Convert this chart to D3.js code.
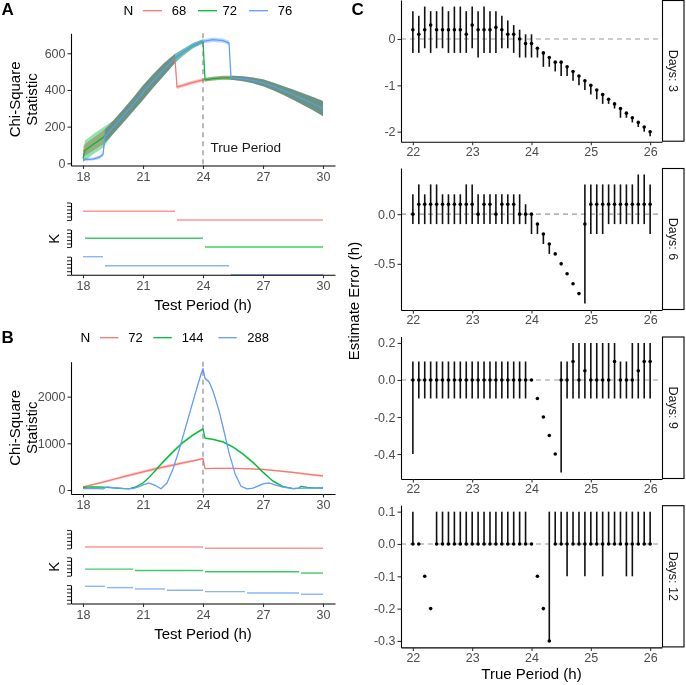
<!DOCTYPE html>
<html><head><meta charset="utf-8">
<script src="https://cdn.jsdelivr.net/npm/d3@7"></script>
<style>body{margin:0;background:#fff}svg{display:block}</style>
</head><body><svg id="c" width="686" height="685"></svg>
<script>
// ---------------- DATA ----------------
const testTicks = [18, 21, 24, 27, 30];
const truePeriodTicks = [22, 23, 24, 25, 26];
const seriesColors = ["#F8766D", "#00BA38", "#619CFF"];

// Panel A : [test period, chi-square, ribbon half-width]
const legendA = ["68", "72", "76"];
const chiA68 = [[18.0,65,32],[18.5,103,35],[19.0,140,37],[19.5,195,37],[20.0,257,37],[20.5,320,38],[21.0,385,40],[21.5,448,38],[22.0,507,35],[22.3,540,30],[22.6,572,25],[22.7,415,10],[23.0,425,10],[23.5,441,10],[24.0,455,10],[24.5,462,10],[25.0,466,11],[25.5,466,12],[26.0,461,14],[26.5,452,16],[27.0,439,19],[27.5,420,21],[28.0,398,24],[28.5,375,28],[29.0,350,32],[29.5,325,36],[30.0,298,42]];
const chiA72 = [[18.0,27,20],[18.1,70,55],[18.5,103,55],[19.0,140,55],[19.5,195,37],[20.0,257,37],[20.5,320,38],[21.0,385,40],[21.5,448,38],[22.0,507,35],[22.6,572,25],[23.0,605,18],[23.5,642,14],[24.0,665,12],[24.1,455,10],[24.5,462,10],[25.0,466,11],[25.5,466,12],[26.0,461,14],[26.5,452,16],[27.0,439,19],[27.5,420,21],[28.0,398,24],[28.5,375,28],[29.0,350,32],[29.5,325,36],[30.0,298,42]];
const chiA76 = [[18.0,20,8],[18.5,23,8],[18.8,32,10],[19.0,48,10],[19.1,148,37],[19.5,195,37],[20.0,257,37],[20.5,320,38],[21.0,385,40],[21.5,448,38],[22.0,507,35],[22.6,572,25],[23.0,605,18],[23.5,642,14],[24.0,665,12],[24.5,674,12],[25.0,669,12],[25.3,657,12],[25.4,466,12],[25.5,466,12],[26.0,461,14],[26.5,452,16],[27.0,439,19],[27.5,420,21],[28.0,398,24],[28.5,375,28],[29.0,350,32],[29.5,325,36],[30.0,298,42]];
const chiTicksA = [0, 200, 400, 600];
// K segments: [start, end, K]
const kA68 = [[18.0,22.6,3],[22.7,30.0,2]];
const kA72 = [[18.1,24.0,3],[24.1,30.0,2]];
const kA76 = [[18.0,19.0,4],[19.1,25.3,3],[25.4,30.0,2]];
const kTicksA = [2, 2.4, 2.8, 3.2, 3.6, 4];

// Panel B
const legendB = ["72", "144", "288"];
const chiB72 = [[18.0,65,15],[18.5,115,20],[19.0,170,25],[19.5,225,28],[20.0,280,30],[20.5,335,32],[21.0,390,34],[21.5,440,35],[22.0,490,35],[22.5,535,33],[23.0,580,30],[23.5,625,25],[24.0,670,20],[24.1,460,12],[24.5,463,12],[25.0,465,12],[25.5,463,12],[26.0,458,12],[26.5,450,14],[27.0,440,15],[27.5,422,16],[28.0,400,18],[28.5,377,20],[29.0,350,22],[29.5,325,24],[30.0,300,26]];
const chiB144 = [[18.0,58,10],[18.5,68,10],[19.0,62,10],[19.5,45,10],[20.0,28,8],[20.3,25,8],[20.6,60,10],[21.0,150,15],[21.3,270,20],[21.6,410,25],[22.0,600,30],[22.5,820,35],[23.0,1020,35],[23.5,1180,30],[24.0,1310,25],[24.1,1110,20],[24.5,1085,20],[25.0,1030,22],[25.5,920,25],[26.0,770,30],[26.5,590,30],[27.0,380,28],[27.5,190,22],[28.0,75,15],[28.5,30,10],[28.8,40,10],[28.9,80,12],[29.2,55,10],[29.5,45,10],[30.0,40,10]];
const chiB288 = [[18.0,30,8],[18.5,35,8],[19.0,25,8],[19.2,65,10],[19.5,50,10],[20.0,35,8],[20.5,30,8],[20.8,70,10],[21.0,110,12],[21.3,150,15],[21.6,100,12],[21.9,25,8],[22.2,150,15],[22.5,450,20],[22.8,850,25],[23.0,1150,30],[23.3,1600,35],[23.6,2050,35],[23.9,2480,35],[24.0,2600,35],[24.1,2390,30],[24.3,2320,30],[24.5,2120,30],[24.8,1700,30],[25.0,1350,30],[25.3,800,25],[25.6,350,20],[25.9,80,10],[26.2,25,8],[26.5,40,8],[27.0,130,12],[27.3,150,12],[27.6,110,10],[28.0,60,8],[28.5,30,8],[29.0,40,8],[29.5,40,8],[30.0,55,8]];
const chiTicksB = [0, 1000, 2000];
const kB72 = [[18.1,24.0,3],[24.1,30.0,2]];
const kB144 = [[18.1,20.5,7],[20.6,24.0,6],[24.1,28.8,5],[28.9,30.0,4]];
const kB288 = [[18.1,19.1,15],[19.2,20.5,14],[20.6,22.1,13],[22.2,24.0,12],[24.1,26.1,11],[26.2,28.8,10],[28.9,30.0,9]];
const kTicksB = [2, 4.8, 7.6, 10.4, 13.2, 16];

// Panel C
const truePeriod = [22.0,22.1,22.2,22.3,22.4,22.5,22.6,22.7,22.8,22.9,23.0,23.1,23.2,23.3,23.4,23.5,23.6,23.7,23.8,23.9,24.0,24.1,24.2,24.3,24.4,24.5,24.6,24.7,24.8,24.9,25.0,25.1,25.2,25.3,25.4,25.5,25.6,25.7,25.8,25.9,26.0];
const est3 = [0.2,0.1,0.2,0.3,0.2,0.2,0.2,0.2,0.2,0.1,0.3,0.2,0.2,0.2,0.25,0.2,0.1,0.1,0.0,-0.1,-0.1,-0.2,-0.3,-0.4,-0.5,-0.5,-0.6,-0.7,-0.8,-0.9,-1.0,-1.1,-1.2,-1.3,-1.4,-1.5,-1.6,-1.7,-1.8,-1.9,-2.0];
const hi3 = [0.6,0.5,0.7,0.6,0.6,0.7,0.6,0.7,0.7,0.6,0.7,0.6,0.7,0.6,0.6,0.5,0.4,0.3,0.2,0.1,0.1,-0.2,-0.3,-0.4,-0.5,-0.5,-0.6,-0.7,-0.8,-0.9,-1.0,-1.1,-1.2,-1.3,-1.4,-1.5,-1.6,-1.7,-1.8,-1.9,-2.0];
const lo3 = [-0.3,-0.3,-0.2,-0.3,-0.2,-0.2,-0.3,-0.3,-0.3,-0.3,-0.2,-0.4,-0.3,-0.3,-0.3,-0.2,-0.2,-0.3,-0.4,-0.4,-0.4,-0.4,-0.6,-0.6,-0.7,-0.8,-0.8,-0.9,-1.0,-1.1,-1.2,-1.3,-1.4,-1.4,-1.5,-1.7,-1.7,-1.8,-1.9,-2.0,-2.1];
const est6 = [0,0.1,0.1,0.1,0.1,0.1,0.1,0.1,0.1,0.1,0.1,0,0.1,0.1,0,0.1,0.1,0.1,0,0,0,-0.1,-0.2,-0.3,-0.4,-0.5,-0.6,-0.7,-0.8,-0.1,0.1,0.1,0.1,0.1,0.1,0.1,0.1,0.1,0.1,0.1,0.1];
const hi6 = [0.2,0.3,0.2,0.3,0.3,0.2,0.2,0.2,0.2,0.3,0.3,0.2,0.2,0.2,0.2,0.2,0.2,0.2,0.2,0.1,0,-0.1,-0.2,-0.3,null,null,null,null,null,0.3,0.3,0.3,0.3,0.3,0.3,0.3,0.3,0.3,0.4,0.4,0.3];
const lo6 = [-0.1,-0.1,-0.1,-0.1,-0.1,-0.1,-0.1,-0.1,-0.1,-0.1,-0.1,-0.1,-0.1,-0.1,-0.1,-0.1,-0.1,-0.1,-0.1,-0.1,-0.2,-0.2,-0.3,-0.4,null,null,null,null,null,-0.9,-0.2,-0.2,-0.2,-0.1,-0.1,-0.1,-0.1,-0.1,-0.1,-0.1,-0.2];
const est9 = [0,0,0,0,0,0,0,0,0,0,0,0,0,0,0,0,0,0,0,0,0,-0.1,-0.2,-0.3,-0.4,0,0,0.1,0,0.05,0,0,0,0,0.1,0,0,0,0.05,0.1,0.1];
const hi9 = [0.1,0.1,0.1,0.1,0.1,0.1,0.1,0.1,0.1,0.1,0.1,0.1,0.1,0.1,0.1,0.1,0.1,0.1,0.1,0.1,null,null,null,null,null,0.1,0.1,0.2,0.2,0.2,0.2,0.2,0.2,0.2,0.2,0.1,0.1,0.2,0.2,0.2,0.2];
const lo9 = [-0.4,-0.1,-0.1,-0.1,-0.1,-0.1,-0.1,-0.1,-0.1,-0.1,-0.1,-0.1,-0.1,-0.1,-0.1,-0.1,-0.1,-0.1,-0.1,-0.1,null,null,null,null,null,-0.5,-0.1,-0.1,-0.1,-0.1,-0.1,-0.1,-0.1,-0.1,-0.1,-0.1,-0.1,-0.1,-0.1,-0.1,-0.1];
const est12 = [0,0,-0.1,-0.2,0,0,0,0,0,0,0,0,0,0,0,0,0,0,0,0,0,-0.1,-0.2,-0.3,0,0,0,0,0,0,0,0,0,0,0,0,0,0,0,0,0];
const hi12 = [0.1,null,null,null,0.1,0.1,0.1,0.1,0.1,0.1,0.1,0.1,0.1,0.1,0.1,0.1,0.1,0.1,0.1,0.1,null,null,null,0.1,0.1,0.1,0.1,0.1,0.1,0.1,0.1,0.1,0.1,0.1,0.1,0.1,0.1,0.1,0.1,0.1,0.1];
const lo12 = [0,null,null,null,0,0,0,0,0,0,0,0,0,0,0,0,0,0,0,0,null,null,null,-0.3,0,0,-0.1,0,0,-0.1,0,0,-0.1,0,0,0,-0.1,-0.1,0,0,0];
const daysLabels = ["Days: 3", "Days: 6", "Days: 9", "Days: 12"];
const yTicksC = [[0,-1,-2],[0,-0.5],[0.2,0,-0.2,-0.4],[0.1,0,-0.1,-0.2,-0.3]];

// ---------------- DRAWING ----------------
const FONT = '"Liberation Sans", Arial, Helvetica, sans-serif';
const svg = d3.select("#c");
svg.append("rect").attr("width",686).attr("height",685).attr("fill","#fff");

function styleAxis(g){
  g.attr("font-family", FONT).attr("font-size", 12.5);
  g.select("path.domain").attr("stroke","#000").attr("stroke-width",1.1);
  g.selectAll(".tick line").attr("stroke","#333").attr("stroke-width",1.1);
  g.selectAll(".tick text").attr("fill","#4d4d4d");
}
function text(x, y, s, o = {}){
  const t = svg.append("text").attr("x", x).attr("y", y).text(s)
    .attr("font-family", FONT).attr("font-size", o.size || 15)
    .attr("fill", o.fill || "#000").attr("text-anchor", o.anchor || "middle")
    .attr("dominant-baseline", o.baseline || "central");
  if (o.weight) t.attr("font-weight", o.weight);
  if (o.rotate != null) t.attr("transform", `rotate(${o.rotate},${x},${y})`);
  return t;
}
const fmt = dec => d => (d < 0 ? "-" : "") + Math.abs(d).toFixed(dec);

function legend(y, titleX, keyXs, labels, keyLen, labelXs){
  text(titleX, y, "N", {size: 13.5, anchor: "start"});
  labels.forEach((lab, i) => {
    svg.append("line").attr("x1", keyXs[i]).attr("x2", keyXs[i] + keyLen)
      .attr("y1", y).attr("y2", y).attr("stroke", seriesColors[i]).attr("stroke-width", 1.3);
    text(labelXs[i], y, lab, {size: 13, anchor: "start"});
  });
}

function chiPanel(o){
  const x = d3.scaleLinear().domain([17.4, 30.6]).range([71, 335]);
  const y = d3.scaleLinear().domain(o.yDomain).range(o.yRange);
  const g = svg.append("g");
  const area = d3.area().x(d => x(d[0])).y0(d => y(d[1] - d[2])).y1(d => y(d[1] + d[2]));
  const line = d3.line().x(d => x(d[0])).y(d => y(d[1]));
  o.series.forEach((s, i) => g.append("path").attr("d", area(s)).attr("fill", seriesColors[i]).attr("fill-opacity", o.alpha)
     .attr("style", o.blend ? "mix-blend-mode:multiply" : null));
  o.series.forEach((s, i) => g.append("path").attr("d", line(s)).attr("fill", "none")
     .attr("stroke", seriesColors[i]).attr("stroke-width", 1.25).attr("stroke-linejoin","round"));
  g.append("line").attr("x1", x(24)).attr("x2", x(24)).attr("y1", o.yRange[1]).attr("y2", o.yRange[0])
    .attr("stroke", "#808080").attr("stroke-width", 1.1).attr("stroke-dasharray", "5,4");
  const ax = svg.append("g").attr("transform", `translate(0,${o.yRange[0]})`)
    .call(d3.axisBottom(x).tickValues(testTicks).tickSize(3.5).tickSizeOuter(0).tickPadding(3));
  styleAxis(ax);
  const ay = svg.append("g").attr("transform", `translate(71,0)`)
    .call(d3.axisLeft(y).tickValues(o.yTicks).tickSize(3.5).tickSizeOuter(0).tickPadding(2).tickFormat(d3.format("d")));
  styleAxis(ay);
  text(15, (o.yRange[0] + o.yRange[1]) / 2, "Chi-Square", {rotate: -90});
  text(32, (o.yRange[0] + o.yRange[1]) / 2, "Statistic", {rotate: -90});
  return x;
}

function kPanel(o){
  const x = d3.scaleLinear().domain([17.4, 30.6]).range([71, 335]);
  o.facets.forEach((f, i) => {
    const y = d3.scaleLinear().domain(o.kDomain).range(f);
    o.segs[i].forEach(s => svg.append("line").attr("x1", x(s[0])).attr("x2", x(s[1]))
      .attr("y1", y(s[2])).attr("y2", y(s[2])).attr("stroke", seriesColors[i])
      .attr("stroke-opacity", 0.75).attr("stroke-width", 1.4));
    const ay = svg.append("g").attr("transform", "translate(71,0)")
      .call(d3.axisLeft(y).tickValues(o.kTicks).tickFormat("").tickSize(4).tickSizeOuter(0));
    styleAxis(ay);
  });
  const bottom = o.facets[2][0];
  const ax = svg.append("g").attr("transform", `translate(0,${bottom})`)
    .call(d3.axisBottom(x).tickValues(testTicks).tickSize(3.5).tickSizeOuter(0).tickPadding(3));
  styleAxis(ax);
  text(53.5, (o.facets[0][1] + bottom) / 2, "K", {rotate: -90});
  text(203, bottom + 30, "Test Period (h)");
}

// ---- Panel A
text(1.5, 15, "A", {size: 17, weight: "bold", anchor: "start", baseline: "auto"});
legend(10.7, 123.5, [143, 198, 249], legendA, 19, [171.7, 222.5, 277.7]);
chiPanel({series: [chiA68, chiA72, chiA76], yDomain: [-12, 709], yRange: [165.5, 33.3], yTicks: chiTicksA, alpha: 0.42, blend: true});
text(210.5, 147, "True Period", {size: 13.6, anchor: "start", fill: "#1a1a1a"});
kPanel({facets: [[220, 202.5], [247, 229.5], [274.8, 256.7]], segs: [kA68, kA72, kA76], kDomain: [2, 4], kTicks: kTicksA});

// ---- Panel B
text(1.5, 343, "B", {size: 17, weight: "bold", anchor: "start", baseline: "auto"});
legend(337.7, 80.5, [100, 153.3, 218.3], legendB, 18.5, [128.3, 181.7, 247.3]);
chiPanel({series: [chiB72, chiB144, chiB288], yDomain: [-86, 2749], yRange: [494, 361.7], yTicks: chiTicksB, alpha: 0.35, blend: false});
kPanel({facets: [[548.3, 530], [575.7, 557.3], [603.5, 585]], segs: [kB72, kB144, kB288], kDomain: [2, 16], kTicks: kTicksB});

// ---- Panel C
text(351.5, 15, "C", {size: 17, weight: "bold", anchor: "start", baseline: "auto"});
const cX = d3.scaleLinear().domain([21.8, 26.2]).range([401, 662]);
const facetC = [
  {est: est3, hi: hi3, lo: lo3, dom: [-2.216, 0.841], rng: [141.7, 0], dec: 0},
  {est: est6, hi: hi6, lo: lo6, dom: [-0.965, 0.465], rng: [310, 168], dec: 1},
  {est: est9, hi: hi9, lo: lo9, dom: [-0.535, 0.235], rng: [479, 336.5], dec: 1},
  {est: est12, hi: hi12, lo: lo12, dom: [-0.32, 0.12], rng: [647.4, 505.2], dec: 1}
];
facetC.forEach((f, i) => {
  const y = d3.scaleLinear().domain(f.dom).range(f.rng);
  const g = svg.append("g");
  g.append("line").attr("x1", 401).attr("x2", 662).attr("y1", y(0)).attr("y2", y(0))
    .attr("stroke", "#999").attr("stroke-width", 1.1).attr("stroke-dasharray", "5,4");
  truePeriod.forEach((tp, j) => {
    if (f.hi[j] != null && f.lo[j] != null && f.hi[j] !== f.lo[j])
      g.append("line").attr("x1", cX(tp)).attr("x2", cX(tp)).attr("y1", y(f.hi[j])).attr("y2", y(f.lo[j]))
        .attr("stroke", "#111").attr("stroke-width", 1.6);
    g.append("circle").attr("cx", cX(tp)).attr("cy", y(f.est[j])).attr("r", 1.8).attr("fill", "#000");
  });
  const ax = svg.append("g").attr("transform", `translate(0,${f.rng[0]})`)
    .call(d3.axisBottom(cX).tickValues(truePeriodTicks).tickSize(3.5).tickSizeOuter(0).tickPadding(2).tickFormat(d3.format("d")));
  styleAxis(ax);
  const ay = svg.append("g").attr("transform", "translate(401,0)")
    .call(d3.axisLeft(y).tickValues(yTicksC[i]).tickSize(3.5).tickSizeOuter(0).tickPadding(2).tickFormat(fmt(f.dec)));
  styleAxis(ay);
  svg.append("rect").attr("x", 662.5).attr("y", f.rng[1] + 0.5).attr("width", 21.5).attr("height", f.rng[0] - f.rng[1] - 1)
    .attr("fill", "#fff").attr("stroke", "#000").attr("stroke-width", 1.1);
  text(673.3, (f.rng[0] + f.rng[1]) / 2, daysLabels[i], {size: 12.5, rotate: 90, fill: "#1a1a1a"});
});
text(531.5, 673, "True Period (h)");
text(353, 301, "Estimate Error (h)", {rotate: -90});
</script></body></html>
